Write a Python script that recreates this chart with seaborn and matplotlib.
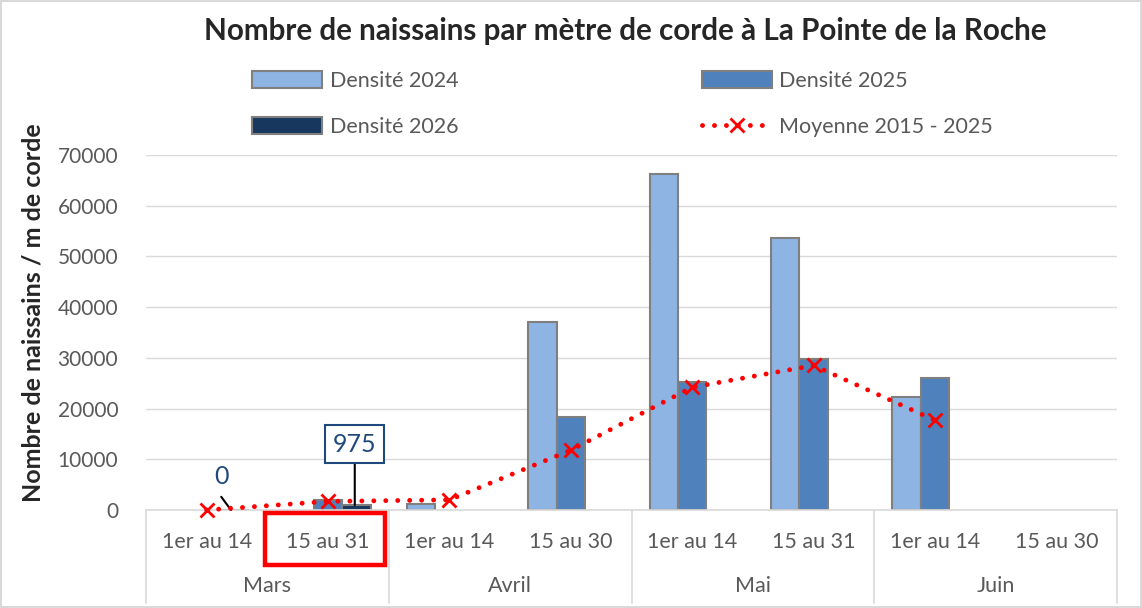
import numpy as np
import pandas as pd
import matplotlib.pyplot as plt
import seaborn as sns
from matplotlib.patches import Patch, Rectangle
from matplotlib.lines import Line2D
import matplotlib.transforms as mtransforms

# Données
mois = ["Mars", "Avril", "Mai", "Juin"]
periodes = ["1er au 14", "15 au 31", "1er au 14", "15 au 30",
            "1er au 14", "15 au 31", "1er au 14", "15 au 30"]
densite_2024 = [np.nan, np.nan, 1200, 37100, 66200, 53600, 22300, np.nan]
densite_2025 = [np.nan, 1900, np.nan, 18400, 25200, 29800, 26000, np.nan]
densite_2026 = [0, 975, np.nan, np.nan, np.nan, np.nan, np.nan, np.nan]
moyenne = [0, 1700, 2000, 11800, 24200, 28500, 17700, np.nan]

series = {"Densité 2024": densite_2024, "Densité 2025": densite_2025,
          "Densité 2026": densite_2026}
couleurs = {"Densité 2024": "#8EB4E3", "Densité 2025": "#4F81BD",
            "Densité 2026": "#17375E"}

cles = [f"{mois[i // 2]} {p}" for i, p in enumerate(periodes)]
rows = []
for nom, vals in series.items():
    for k, v in zip(cles, vals):
        if not np.isnan(v):
            rows.append({"periode": k, "serie": nom, "valeur": v})
df = pd.DataFrame(rows)

sns.set_style("white")
plt.rcParams["font.family"] = ["Lato", "DejaVu Sans"]

fig = plt.figure(figsize=(11.42, 6.08), dpi=100)
fig.patch.set_edgecolor("#D9D9D9")
fig.patch.set_linewidth(1.5)
ax = fig.add_axes([146 / 1142, 1 - 510 / 608, (1117 - 146) / 1142, 355 / 608])

sns.barplot(data=df, x="periode", y="valeur", hue="serie", order=cles,
            hue_order=list(series.keys()), palette=couleurs, width=0.7,
            saturation=1, errorbar=None, edgecolor="#7F7F7F", linewidth=1.5,
            ax=ax, legend=False, zorder=2)

style_moy = dict(color="red", lw=3.5, linestyle=(0, (0.01, 2.45)),
                 dash_capstyle="round", marker="x", markersize=10, mew=2,
                 markeredgecolor="red")
x = np.arange(len(cles))
ax.plot(x, moyenne, zorder=4, clip_on=False, **style_moy)

ax.set_ylim(0, 70000)
ax.set_xlim(-0.5, 7.5)
ax.set_yticks(range(0, 70001, 10000))
ax.yaxis.grid(True, color="#D9D9D9", lw=1)
ax.set_axisbelow(True)
for s in ["left", "right", "top"]:
    ax.spines[s].set_visible(False)
ax.spines["bottom"].set_color("#D9D9D9")
ax.spines["bottom"].set_linewidth(1.2)
ax.tick_params(axis="y", length=0, pad=20, labelsize=15, labelcolor="#595959")
ax.tick_params(axis="x", length=0, pad=16, labelsize=15.5, labelcolor="#595959")
ax.set_xticks(x)
ax.set_xticklabels(periodes)
ax.set_xlabel("")
ax.set_ylabel("Nombre de naissains / m de corde", fontsize=18,
              fontweight="bold", va="center")
ax.yaxis.set_label_coords(-0.116, 0.555)

# Étiquettes des mois et séparateurs
trans = mtransforms.blended_transform_factory(ax.transData, ax.transAxes)
for i, m in enumerate(mois):
    ax.text(2 * i + 0.5, -0.215, m, transform=trans, ha="center", va="center",
            fontsize=15.5, color="#595959")
for b in [-0.5, 1.5, 3.5, 5.5, 7.5]:
    ax.plot([b, b], [0, -0.262], transform=trans, color="#D9D9D9", lw=1.2,
            clip_on=False)

# Étiquettes de données
ax.annotate("", xy=(0.2, 0), xytext=(0.12, 2600),
            arrowprops=dict(arrowstyle="-", color="black", lw=1.5,
                            shrinkA=0, shrinkB=0))
ax.text(0.12, 6700, "0", ha="center", va="center", fontsize=18,
        color="#1F497D")
ax.annotate("975", xy=(1.22, 975), xytext=(1.22, 13000), ha="center",
            va="center", fontsize=18, color="#1F497D",
            bbox=dict(boxstyle="square,pad=0.3", fc="white", ec="#1F497D",
                      lw=1.5),
            arrowprops=dict(arrowstyle="-", color="black", lw=1.5,
                            shrinkA=0, shrinkB=0))

# Cadre rouge autour de la période en cours
ax.add_patch(Rectangle((0.48, -0.155), 0.99, 0.147, transform=trans,
                       fill=False, ec="red", lw=3.2, clip_on=False, zorder=5))

# Légende
handles = [Patch(fc=couleurs["Densité 2024"], ec="#7F7F7F", lw=1.5),
           Patch(fc=couleurs["Densité 2026"], ec="#7F7F7F", lw=1.5),
           Patch(fc=couleurs["Densité 2025"], ec="#7F7F7F", lw=1.5),
           Line2D([], [], **style_moy)]
labels = ["Densité 2024", "Densité 2026", "Densité 2025", "Moyenne 2015 - 2025"]
leg = fig.legend(handles, labels, ncol=2, loc="center left",
                 bbox_to_anchor=(233 / 1142, 1 - 104 / 608), frameon=False,
                 fontsize=15.5, handlelength=3.25, handleheight=0.8,
                 handletextpad=0.35, columnspacing=11.3, labelspacing=1.2)
for t in leg.get_texts():
    t.set_color("#595959")

fig.suptitle("Nombre de naissains par mètre de corde à La Pointe de la Roche",
             x=625 / 1142, y=1 - 31 / 608, va="center", fontsize=21.3,
             fontweight="bold")

fig.savefig("out.png", dpi=100)
